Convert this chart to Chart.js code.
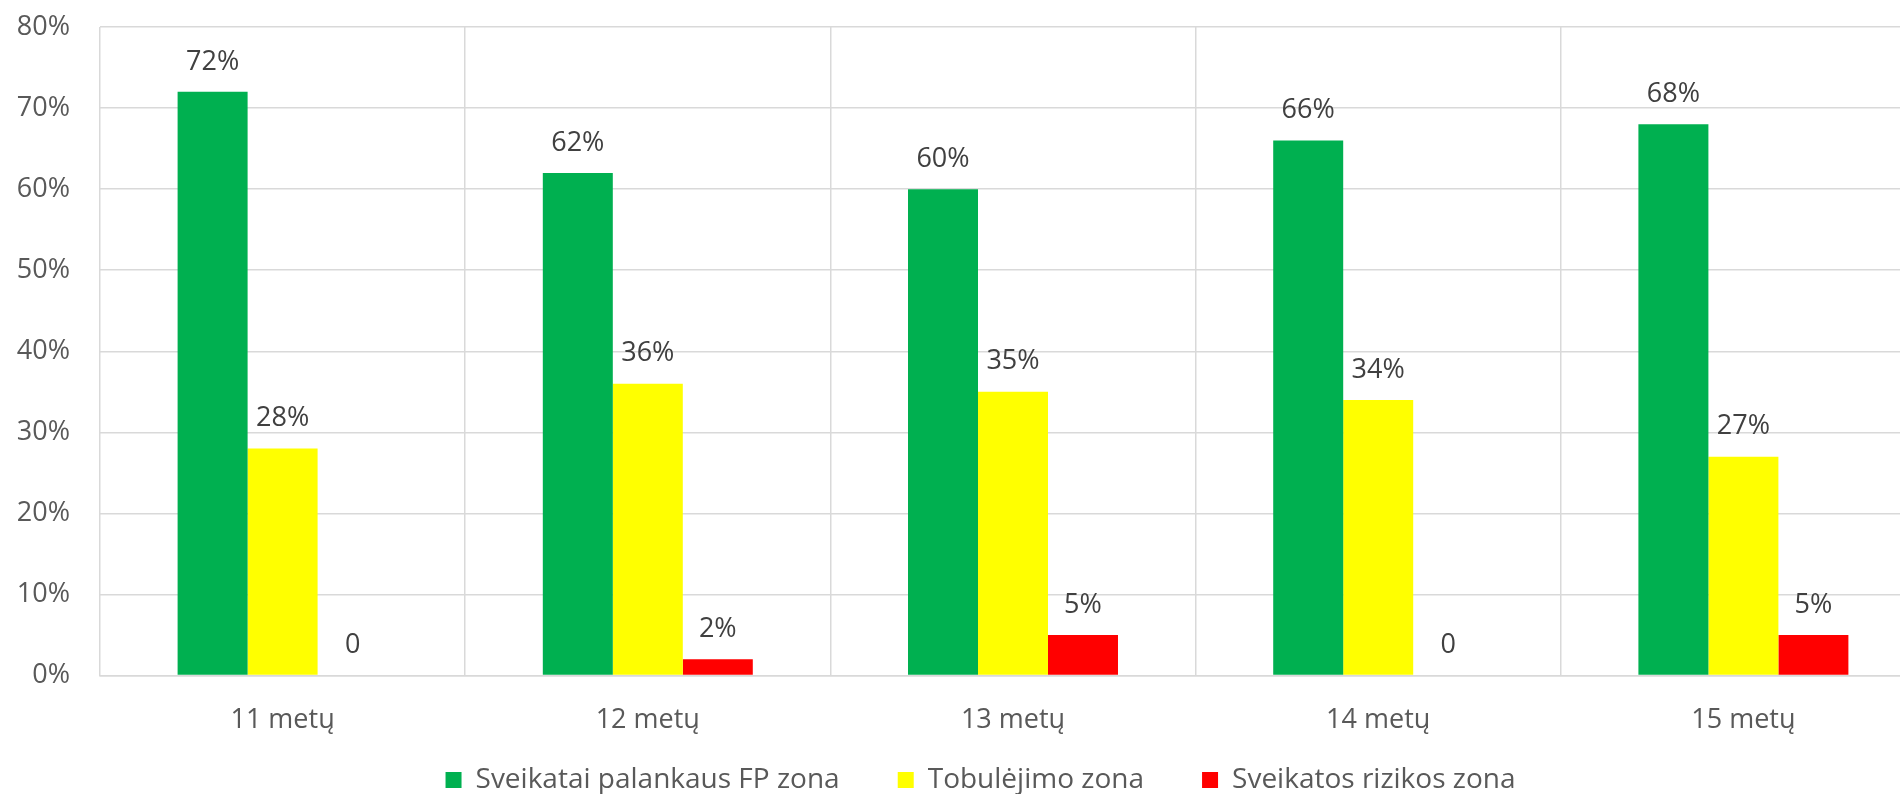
<!DOCTYPE html>
<html>
<head>
<meta charset="utf-8">
<script src="https://cdn.jsdelivr.net/npm/chart.js@4.4.1/dist/chart.umd.min.js"></script>
<style>
  html, body { margin: 0; padding: 0; background: #fff; overflow: hidden; }
  #wrap { position: absolute; left: 0; top: 0; width: 1962px; height: 804px; }
</style>
</head>
<body>
<div id="wrap"><canvas id="chart"></canvas></div>
<script>
const categories = ['11 metų', '12 metų', '13 metų', '14 metų', '15 metų'];
const seriesNames = ['Sveikatai palankaus FP zona', 'Tobulėjimo zona', 'Sveikatos rizikos zona'];
const greenZone = [72, 62, 60, 66, 68];
const yellowZone = [28, 36, 35, 34, 27];
const redZone = [0, 2, 5, 0, 5];
const yTicks = [0, 10, 20, 30, 40, 50, 60, 70, 80];

const FONT = "'Open Sans', 'DejaVu Sans', sans-serif";

// labels above each bar, zero shows as plain "0"
const barLabels = {
  id: 'barLabels',
  afterDatasetsDraw(chart) {
    const ctx = chart.ctx;
    ctx.save();
    ctx.font = '27px ' + FONT;
    ctx.fillStyle = '#404040';
    ctx.textAlign = 'center';
    ctx.textBaseline = 'middle';
    chart.data.datasets.forEach((ds, i) => {
      chart.getDatasetMeta(i).data.forEach((bar, j) => {
        const v = ds.data[j];
        ctx.fillText(v === 0 ? '0' : v + '%', bar.x, bar.y - 30);
      });
    });
    ctx.restore();
  }
};

// nudge the legend a little to the right, like the original
const legendNudge = {
  id: 'legendNudge',
  afterLayout(chart) { chart.legend.left += 18; }
};

new Chart(document.getElementById('chart'), {
  type: 'bar',
  data: {
    labels: categories,
    datasets: [
      { label: seriesNames[0], data: greenZone, backgroundColor: '#00B050' },
      { label: seriesNames[1], data: yellowZone, backgroundColor: '#FFFF00' },
      { label: seriesNames[2], data: redZone, backgroundColor: '#FF0000' }
    ]
  },
  options: {
    responsive: true,
    maintainAspectRatio: false,
    animation: false,
    datasets: { bar: { barPercentage: 1, categoryPercentage: 0.575 } },
    layout: { padding: { left: 17, right: 36, top: 27, bottom: 0 } },
    plugins: {
      legend: {
        position: 'bottom',
        labels: {
          boxWidth: 16,
          boxHeight: 16,
          padding: 29,
          color: '#595959',
          font: { family: FONT, size: 28 },
          // wider gap between entries than the vertical padding allows
          generateLabels(chart) {
            const items = Chart.defaults.plugins.legend.labels.generateLabels(chart);
            items.forEach((it, i) => { if (i < items.length - 1) it.text += '    '; });
            return items;
          }
        }
      },
      tooltip: { enabled: false }
    },
    scales: {
      x: {
        grid: { color: '#D9D9D9', lineWidth: 1.5, drawTicks: false, offset: true },
        border: { color: '#D9D9D9', width: 1.5 },
        ticks: { color: '#595959', padding: 29, maxRotation: 0, font: { family: FONT, size: 27 } },
        afterFit(scale) { scale.height = 61.5; scale.paddingLeft = 0; scale.paddingRight = 0; }
      },
      y: {
        min: 0,
        max: 80,
        afterBuildTicks(scale) { scale.ticks = yTicks.map(v => ({ value: v })); },
        afterFit(scale) { scale.width = 83; scale.paddingTop = 0; scale.paddingBottom = 0; },
        grid: { color: '#D9D9D9', lineWidth: 1.5, drawTicks: false },
        border: { display: false },
        ticks: {
          color: '#595959',
          padding: 30,
          font: { family: FONT, size: 27 },
          callback: v => v + '%'
        }
      }
    }
  },
  plugins: [barLabels, legendNudge]
});
</script>
</body>
</html>
